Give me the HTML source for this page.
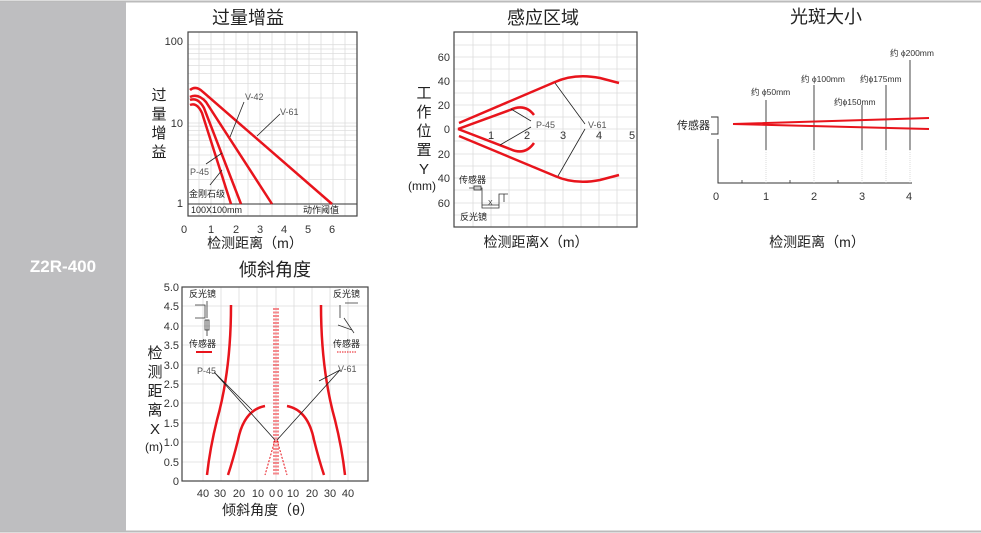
<!DOCTYPE html>
<html><head><meta charset="utf-8"><style>
body{margin:0;width:981px;height:533px;background:#fff;overflow:hidden}
svg{display:block}
text{font-family:"Liberation Sans","Noto Sans CJK SC",sans-serif}
</style></head><body>
<svg width="981" height="533" viewBox="0 0 981 533">
<rect x="0" y="0" width="981" height="533" fill="#fff"/>
<line x1="0" y1="1.5" x2="981" y2="1.5" stroke="#bbb" stroke-width="2"/>
<line x1="0" y1="531.5" x2="981" y2="531.5" stroke="#bbb" stroke-width="2"/>
<rect x="0" y="2" width="126" height="529" fill="#bebec0"/>
<text x="63" y="272" font-size="17" font-weight="bold" fill="#fff" text-anchor="middle">Z2R-400</text>

<!-- Chart 1 -->
<text x="248" y="24" font-size="18" text-anchor="middle" fill="#222">过量增益</text>
<g stroke="#ddd" stroke-width="0.8">
<path d="M199 32V216M211 32V216M224 32V216M236 32V216M248 32V216M260 32V216M272 32V216M285 32V216M297 32V216M309 32V216M321 32V216M333 32V216M345 32V216"/>
<path d="M188 179.5H357M188 165H357M188 155H357M188 147H357M188 140.6H357M188 135H357M188 130.4H357M188 126.2H357M188 123H357M188 98H357M188 83.6H357M188 73.4H357M188 65.5H357M188 59H357M188 53.6H357M188 49H357M188 44.7H357"/>
</g>
<line x1="188" y1="204" x2="357" y2="204" stroke="#333" stroke-width="1"/>
<rect x="188" y="32" width="169" height="184" fill="none" stroke="#444" stroke-width="1.2"/>
<g font-size="11" fill="#333">
<text x="183" y="45" text-anchor="end">100</text><text x="183" y="127" text-anchor="end">10</text><text x="183" y="207" text-anchor="end">1</text>
<text x="184" y="233" text-anchor="middle">0</text><text x="211" y="233" text-anchor="middle">1</text><text x="236" y="233" text-anchor="middle">2</text><text x="260" y="233" text-anchor="middle">3</text><text x="284" y="233" text-anchor="middle">4</text><text x="308" y="233" text-anchor="middle">5</text><text x="332" y="233" text-anchor="middle">6</text>
</g>
<g font-size="15" fill="#222" text-anchor="middle"><text x="159" y="100">过</text><text x="159" y="119">量</text><text x="159" y="138">增</text><text x="159" y="157">益</text></g>
<text x="255" y="248" font-size="14" fill="#222" text-anchor="middle">检测距离（m）</text>
<g fill="none" stroke="#e8141c" stroke-width="2.5">
<path d="M190 90 Q196 85 203 92 L332 204"/>
<path d="M190 97 Q198 93 206 102 L272 204"/>
<path d="M190 100 Q198 97 204 108 L241 204"/>
<path d="M190 105 Q197 102 202 113 L231 204"/>
</g>
<g stroke="#222" stroke-width="0.8" fill="none">
<path d="M244 102 L230 137"/><path d="M280 114 L257 136"/><path d="M206 164 L222 153"/><path d="M210 185 L222 170"/>
</g>
<g font-size="9" fill="#555"><text x="245" y="100">V-42</text><text x="280" y="115">V-61</text><text x="190" y="175">P-45</text></g>
<g font-size="9" fill="#222"><text x="189" y="197">金刚石级</text><text x="191" y="213">100X100mm</text><text x="303" y="213">动作阈值</text></g>

<!-- Chart 2 -->
<text x="543" y="24" font-size="18" text-anchor="middle" fill="#222">感应区域</text>
<g stroke="#ddd" stroke-width="0.8">
<path d="M473 32V227M491 32V227M509 32V227M527 32V227M545 32V227M563 32V227M581 32V227M599 32V227M617 32V227"/>
<path d="M454 45H637M454 57H637M454 69H637M454 81H637M454 93H637M454 105H637M454 117H637M454 129H637M454 141H637M454 154H637M454 166H637M454 178H637M454 190H637M454 203H637M454 215H637"/>
</g>
<rect x="454" y="32" width="183" height="195" fill="none" stroke="#444" stroke-width="1.2"/>
<g font-size="11" fill="#333" text-anchor="end">
<text x="450" y="61">60</text><text x="450" y="85">40</text><text x="450" y="109">20</text><text x="450" y="133">0</text><text x="450" y="158">20</text><text x="450" y="182">40</text><text x="450" y="207">60</text>
</g>
<g font-size="11" fill="#333" text-anchor="middle"><text x="491" y="139">1</text><text x="527" y="139">2</text><text x="563" y="139">3</text><text x="599" y="139">4</text><text x="632" y="139">5</text></g>
<g font-size="15" fill="#222" text-anchor="middle"><text x="424" y="98">工</text><text x="424" y="117">作</text><text x="424" y="136">位</text><text x="424" y="155">置</text><text x="424" y="174">Y</text></g>
<text x="422" y="190" font-size="12" fill="#222" text-anchor="middle">(mm)</text>
<text x="536" y="247" font-size="14" fill="#222" text-anchor="middle">检测距离X（m）</text>
<g fill="none" stroke="#e8141c" stroke-width="2.5">
<path d="M459 123 L555 82 Q575 73 600 78 L619 83"/>
<path d="M459 136 L555 176 Q575 185 600 180 L619 175"/>
<path d="M458 129 L510 110 Q525 103 534 115"/>
<path d="M458 129 L510 149 Q525 156 534 143"/>
</g>
<g stroke="#222" stroke-width="0.8" fill="none"><path d="M511 109 L531 121M500 145 L531 127M555 83 L585 124M558 176 L585 129"/></g>
<g font-size="9" fill="#555"><text x="536" y="128">P-45</text><text x="588" y="128">V-61</text></g>
<g font-size="9" fill="#222"><text x="459" y="183">传感器</text><text x="460" y="220">反光镜</text></g>
<g stroke="#333" stroke-width="0.8" fill="none"><path d="M469 188H482M476 188H482V208H499V194H508M482 205H499M504 194V202"/><rect x="474" y="186" width="7" height="4" fill="#ccc"/></g>
<text x="488" y="205" font-size="7" fill="#333">X</text>

<!-- Chart 3 -->
<text x="826" y="23" font-size="18" text-anchor="middle" fill="#222">光斑大小</text>
<text x="710" y="129" font-size="11" fill="#222" text-anchor="end">传感器</text>
<path d="M711 117H718V134H711" fill="none" stroke="#333" stroke-width="0.9"/>
<path d="M718 139V183H912" fill="none" stroke="#333" stroke-width="1"/>
<g stroke="#333" stroke-width="0.8"><path d="M742 180V183M790 180V183M838 180V183"/></g>
<g stroke="#333" stroke-width="0.9">
<path d="M766 100V150M814 85V150M862 105V150M886 85V150M910 60V150"/>
</g>
<g stroke="#ccc" stroke-width="0.7" stroke-dasharray="1 1"><path d="M766 150V183M814 150V183M862 150V183M886 150V183M910 150V183"/></g>
<g fill="none" stroke="#e8141c" stroke-width="2"><path d="M733 124L929 118M733 124L929 129"/></g>
<g font-size="11" fill="#333" text-anchor="middle"><text x="716" y="200">0</text><text x="766" y="200">1</text><text x="814" y="200">2</text><text x="862" y="200">3</text><text x="909" y="200">4</text></g>
<g font-size="8.5" fill="#333"><text x="751" y="95">约 ϕ50mm</text><text x="801" y="82">约 ϕ100mm</text><text x="834" y="105">约ϕ150mm</text><text x="860" y="82">约ϕ175mm</text><text x="890" y="56">约 ϕ200mm</text></g>
<text x="817" y="247" font-size="14" fill="#222" text-anchor="middle">检测距离（m）</text>

<!-- Chart 4 -->
<text x="275" y="276" font-size="18" text-anchor="middle" fill="#222">倾斜角度</text>
<g stroke="#ddd" stroke-width="0.8">
<path d="M203 287V481M221 287V481M239 287V481M257 287V481M276 287V481M294 287V481M312 287V481M330 287V481M348 287V481"/>
<path d="M182 306H368M182 326H368M182 345H368M182 365H368M182 384H368M182 403H368M182 423H368M182 442H368M182 462H368"/>
</g>
<rect x="182" y="287" width="186" height="194" fill="none" stroke="#444" stroke-width="1.2"/>
<g font-size="11" fill="#333" text-anchor="end">
<text x="179" y="291">5.0</text><text x="179" y="310">4.5</text><text x="179" y="330">4.0</text><text x="179" y="349">3.5</text><text x="179" y="369">3.0</text><text x="179" y="388">2.5</text><text x="179" y="407">2.0</text><text x="179" y="427">1.5</text><text x="179" y="446">1.0</text><text x="179" y="466">0.5</text><text x="179" y="485">0</text>
</g>
<g font-size="11" fill="#333" text-anchor="middle"><text x="203" y="497">40</text><text x="220" y="497">30</text><text x="239" y="497">20</text><text x="258" y="497">10</text><text x="272" y="497">0</text><text x="280" y="497">0</text><text x="293" y="497">10</text><text x="312" y="497">20</text><text x="330" y="497">30</text><text x="348" y="497">40</text></g>
<g font-size="15" fill="#222" text-anchor="middle"><text x="155" y="358">检</text><text x="155" y="377">测</text><text x="155" y="396">距</text><text x="155" y="415">离</text><text x="155" y="434">X</text></g>
<text x="154" y="451" font-size="12" fill="#222" text-anchor="middle">(m)</text>
<text x="268" y="515" font-size="14" fill="#222" text-anchor="middle">倾斜角度（θ）</text>
<g fill="none" stroke="#e8141c" stroke-width="2.5">
<path d="M231 305 Q231 370 217 420 Q210 448 207 475"/>
<path d="M321 305 Q321 370 335 420 Q342 448 345 475"/>
<path d="M228 475 Q233 460 238 440 Q244 410 265 406"/>
<path d="M324 475 Q319 460 314 440 Q308 410 287 406"/>
</g>
<g fill="none" stroke="#e8141c" stroke-width="1" stroke-dasharray="2 1.5">
<path d="M274 308V475M278 308V475M276 308V475M275 440L265 475M277 440L287 475"/>
</g>
<g stroke="#222" stroke-width="0.8" fill="none"><path d="M214 372L275 440M214 372L252 410M340 370L277 440M340 370L319 381"/></g>
<g font-size="9" fill="#555"><text x="197" y="374">P-45</text><text x="338" y="372">V-61</text></g>
<g font-size="9" fill="#222"><text x="189" y="297">反光镜</text><text x="189" y="347">传感器</text><text x="333" y="297">反光镜</text><text x="333" y="347">传感器</text></g>
<path d="M196 352H212" stroke="#e8141c" stroke-width="2"/>
<path d="M337 352H357" stroke="#e8141c" stroke-width="1" stroke-dasharray="1.5 1"/>
<g stroke="#333" stroke-width="0.8" fill="none"><path d="M195 305H205V318H195M207 301V318M207 320V336M345 303H358M340 305V318M338 325L352 330M344 318L354 333"/><rect x="205" y="320" width="4" height="10"/></g>
</svg>
</body></html>
